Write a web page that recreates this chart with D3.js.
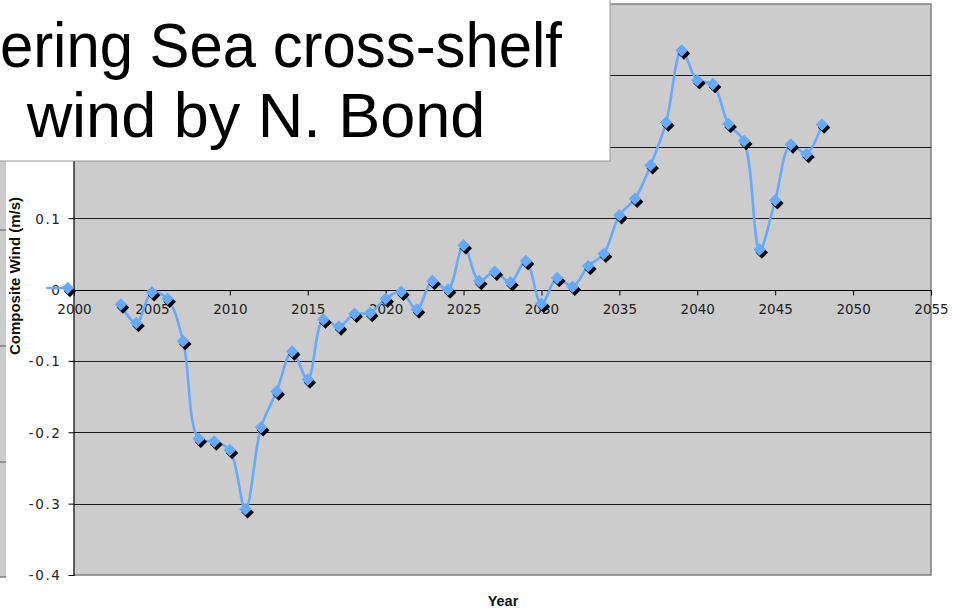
<!DOCTYPE html>
<html>
<head>
<meta charset="utf-8">
<script src="https://cdn.jsdelivr.net/npm/d3@7"></script>
<style>
  html, body { margin: 0; padding: 0; background: #ffffff; }
  svg { display: block; }
</style>
</head>
<body>
<svg id="chart" width="953" height="612"></svg>
<script>
// Composite cross-shelf wind, yearly values (m/s); null = no value that year
const years = [1998.3, 1999.6, 2001, 2002, 2003, 2004, 2005, 2006, 2007, 2008, 2009, 2010,
  2011, 2012, 2013, 2014, 2015, 2016, 2017, 2018, 2019, 2020,
  2021, 2022, 2023, 2024, 2025, 2026, 2027, 2028, 2029, 2030,
  2031, 2032, 2033, 2034, 2035, 2036, 2037, 2038, 2039, 2040,
  2041, 2042, 2043, 2044, 2045, 2046, 2047, 2048];
const wind = [0.002, 0.002, null, null, -0.021, -0.047, -0.004, -0.013, -0.072, -0.209, -0.213, -0.225,
  -0.308, -0.193, -0.143, -0.087, -0.126, -0.042, -0.052, -0.034, -0.033, -0.013,
  -0.003, -0.028, 0.012, 0.0, 0.062, 0.012, 0.025, 0.010, 0.040, -0.020,
  0.016, 0.004, 0.033, 0.050, 0.104, 0.127, 0.174, 0.234, 0.335, 0.293,
  0.288, 0.232, 0.208, 0.056, 0.125, 0.203, 0.190, 0.231];

const xTicks = [2000, 2005, 2010, 2015, 2020, 2025, 2030, 2035, 2040, 2045, 2050, 2055];
const yTicks = [0.1, 0, -0.1, -0.2, -0.3, -0.4];
const gridValues = [0.3, 0.2, 0.1, -0.1, -0.2, -0.3];
const titleLines = ["Bering Sea cross-shelf", "wind by N. Bond"];
const xTitle = "Year";
const yTitle = "Composite Wind (m/s)";

const svg = d3.select("#chart");
const plotL = 74, plotR = 931, plotT = 4, plotB = 575;

const x = d3.scaleLinear().domain([2000, 2055]).range([plotL, plotR]);
const y = d3.scaleLinear().domain([-0.4, 0.4]).range([plotB, plotT]);

// partial panel of a neighbouring chart at the far left edge
const side = svg.append("g");
side.append("rect").attr("x", 0).attr("y", 160).attr("width", 6).attr("height", 417).attr("fill", "#cccccc");
side.selectAll("line").data([230, 346, 462, 577]).join("line")
  .attr("x1", 0).attr("x2", 6).attr("y1", d => d).attr("y2", d => d)
  .attr("stroke", "#555").attr("stroke-width", 1);

// plot area
svg.append("rect").attr("x", plotL).attr("y", plotT).attr("width", plotR - plotL).attr("height", plotB - plotT)
  .attr("fill", "#cccccc");
svg.append("path")
  .attr("d", `M${plotL},${plotT}H${plotR}V${plotB}H${plotL}`)
  .attr("fill", "none").attr("stroke", "#808080").attr("stroke-width", 1.5);

// horizontal gridlines
svg.append("g").selectAll("line").data(gridValues).join("line")
  .attr("x1", plotL).attr("x2", plotR)
  .attr("y1", d => Math.round(y(d)) + 0.5).attr("y2", d => Math.round(y(d)) + 0.5)
  .attr("stroke", "#1a1a1a").attr("stroke-width", 1);

// y axis (plain hyphen for negatives)
const yAxis = d3.axisLeft(y).tickValues(yTicks).tickSize(6).tickPadding(7)
  .tickFormat(d => String(+d.toFixed(1)));
const gy = svg.append("g").attr("transform", `translate(${plotL + 0.5},0)`).call(yAxis);
gy.select(".domain").attr("d", `M-0.5,${plotT}V${plotB}H0`).attr("stroke", "#000").attr("stroke-width", 1.2);
gy.selectAll(".tick line").attr("stroke", "#000");
gy.selectAll(".tick text").attr("font-family", "DejaVu Sans").attr("font-size", 13.5)
  .attr("letter-spacing", 1.6).attr("fill", "#222").attr("dy", "0.36em");

// x axis crosses at zero
const xAxis = d3.axisBottom(x).tickValues(xTicks).tickSize(5).tickPadding(9)
  .tickFormat(d3.format("d"));
const gx = svg.append("g").attr("transform", `translate(0,${Math.round(y(0)) + 0.5})`).call(xAxis);
gx.select(".domain").attr("d", `M${plotL},0H${plotR}`).attr("stroke", "#000").attr("stroke-width", 1.2);
gx.selectAll(".tick line").attr("stroke", "#000");
gx.selectAll(".tick text").attr("font-family", "DejaVu Sans").attr("font-size", 13.5).attr("fill", "#222");

// data series
const data = years.map((yr, i) => ({ yr, v: wind[i] }));
const line = d3.line()
  .defined(d => d.v !== null)
  .x(d => x(d.yr)).y(d => y(d.v))
  .curve(d3.curveCatmullRom.alpha(0.5));

svg.append("path").datum(data).attr("d", line)
  .attr("fill", "none").attr("stroke", "#66aaff").attr("stroke-width", 2.6)
  .attr("stroke-linejoin", "round").attr("stroke-linecap", "round");

const marked = data.filter(d => d.v !== null && d.yr >= 1999.5);
const diamond = d3.symbol(d3.symbolSquare, 78);
const mk = svg.append("g");
mk.selectAll("path.shadow").data(marked).join("path").attr("class", "shadow")
  .attr("d", diamond)
  .attr("transform", d => `translate(${x(d.yr) + 2.2},${y(d.v) + 3}) rotate(45)`)
  .attr("fill", "#000");
mk.selectAll("path.mark").data(marked).join("path").attr("class", "mark")
  .attr("d", diamond)
  .attr("transform", d => `translate(${x(d.yr)},${y(d.v)}) rotate(45)`)
  .attr("fill", "#66aaff");

// axis titles
svg.append("text").attr("x", (plotL + plotR) / 2 + 0.5).attr("y", 606)
  .attr("text-anchor", "middle").attr("font-family", "Liberation Sans").attr("font-weight", "bold")
  .attr("font-size", 14.5).attr("fill", "#111").text(xTitle);
svg.append("text").attr("transform", "translate(20,276) rotate(-90)")
  .attr("text-anchor", "middle").attr("font-family", "Liberation Sans").attr("font-weight", "bold")
  .attr("font-size", 15).attr("fill", "#111").text(yTitle);

// title box
const tb = svg.append("g");
tb.append("rect").attr("x", -2).attr("y", -2).attr("width", 612).attr("height", 163)
  .attr("fill", "#ffffff").attr("stroke", "#9a9a9a").attr("stroke-width", 1);
tb.append("text").attr("x", -40).attr("y", 67)
  .attr("textLength", 602).attr("lengthAdjust", "spacingAndGlyphs")
  .attr("font-family", "Liberation Sans").attr("font-size", 63).attr("fill", "#000")
  .text(titleLines[0]);
tb.append("text").attr("x", 256).attr("y", 137).attr("text-anchor", "middle")
  .attr("font-family", "Liberation Sans").attr("font-size", 63).attr("fill", "#000")
  .text(titleLines[1]);
</script>
</body>
</html>
